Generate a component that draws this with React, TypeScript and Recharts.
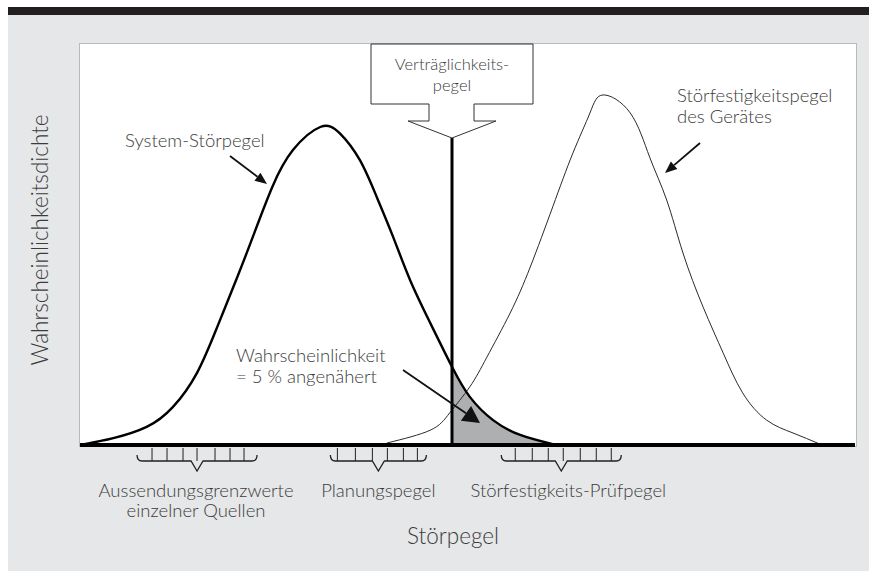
import React from 'react';
import { ComposedChart, Line, Area, XAxis, YAxis, ReferenceLine } from 'recharts';

// System-Störpegel (thick curve): level / density pairs
const systemLevel = [0.6, 4.3, 8.6, 12.0, 15.1, 17.7, 20.3, 22.3, 24.8, 27.5, 31.0, 33.5, 36.1, 38.3, 40.4, 42.6, 45.2, 48.0, 50.3, 53.3, 56.8, 61.0];
const systemDensity = [0.2, 1.7, 4.5, 9.5, 18.0, 29.4, 41.9, 51.9, 64.3, 73.6, 79.3, 77.8, 71.1, 61.8, 51.9, 41.1, 30.4, 19.5, 12.0, 6.2, 2.5, 0.2];

// Störfestigkeitspegel des Gerätes (thin curve)
const immunityLevel = [39.6, 45.2, 47.7, 50.3, 52.5, 55.5, 58.1, 61.0, 63.6, 65.8, 67.5, 71.0, 73.5, 75.7, 77.8, 80.4, 83.0, 85.5, 88.6, 92.0, 95.5];
const immunityDensity = [0.5, 3.7, 8.0, 14.5, 21.9, 32.9, 44.4, 59.4, 72.8, 82.8, 87.3, 82.8, 71.8, 61.1, 47.9, 34.4, 22.9, 13.0, 6.2, 3.0, 0.2];

// Verträglichkeitspegel
const compatibilityLevel = 48.0;
const compatibilityTop = 76.6;

// bracket groups under the axis
const tickLevels = [15.1, 38.5, 62.1];
const tickLabels = [
  ['Aussendungsgrenzwerte', 'einzelner Quellen'],
  ['Planungspegel'],
  ['Störfestigkeits-Prüfpegel'],
];

const systemData = systemLevel.map((u, i) => ({ u, v: systemDensity[i] }));
const immunityData = immunityLevel.map((u, i) => ({ u, v: immunityDensity[i] }));
const tailData = systemData.filter((d) => d.u >= compatibilityLevel);

const FONT = 'Lato, "Open Sans", sans-serif';
const TEXT = '#3b3b3b';

// bracket shapes: half width, tick offsets from the centre, label shift
const bracketStyle = [
  { hw: 60, ticks: [-45, -30, -14, 0, 18, 33, 47], dx: -1 },
  { hw: 48, ticks: [-41, -23, -6, 9, 25, 39], dx: 0 },
  { hw: 60, ticks: [-46, -29, -13, 2, 19, 35, 50], dx: 7 },
];

const BracketTick = (props: any) => {
  const { x, y, index } = props;
  const s = bracketStyle[index] || bracketStyle[0];
  const top = y + 3;
  const bar = y + 16;
  const d = `M${x - s.hw},${bar - 6} Q${x - s.hw},${bar} ${x - s.hw + 5},${bar} L${x - 6},${bar} L${x},${bar + 10} L${x + 6},${bar} L${x + s.hw - 5},${bar} Q${x + s.hw},${bar} ${x + s.hw},${bar - 6}`;
  const lines = tickLabels[index] || [];
  return (
    <g>
      <path d={d} fill="none" stroke="#222" strokeWidth={1.3} />
      {s.ticks.map((t, i) => (
        <line key={i} x1={x + t} x2={x + t} y1={top} y2={bar} stroke="#222" strokeWidth={1} />
      ))}
      {lines.map((l, i) => (
        <text
          key={i}
          x={x + s.dx}
          y={y + 52 + i * 20}
          textAnchor="middle"
          fontFamily={FONT}
          fontWeight={300}
          fontSize={18.5}
          fill={TEXT}
        >
          {l}
        </text>
      ))}
    </g>
  );
};

const Arrow = ({ x1, y1, x2, y2, head = 12, wide = 5, w = 1.8 }: any) => {
  const a = Math.atan2(y2 - y1, x2 - x1);
  const bx = x2 - head * Math.cos(a);
  const by = y2 - head * Math.sin(a);
  const px = -Math.sin(a) * wide;
  const py = Math.cos(a) * wide;
  return (
    <g>
      <line x1={x1} y1={y1} x2={bx} y2={by} stroke="#111" strokeWidth={w} />
      <polygon points={`${x2},${y2} ${bx + px},${by + py} ${bx - px},${by - py}`} fill="#111" />
    </g>
  );
};

const Label = ({ x, y, lines, anchor = 'start', size = 18.5 }: any) => (
  <text x={x} y={y} textAnchor={anchor} fontFamily={FONT} fontWeight={300} fontSize={size} fill={TEXT}>
    {lines.map((l: string, i: number) => (
      <tspan key={i} x={x} dy={i === 0 ? 0 : 21}>
        {l}
      </tspan>
    ))}
  </text>
);

export default function App() {
  return (
    <div style={{ position: 'absolute', left: 0, top: 0, width: 869, height: 571, background: '#fff', overflow: 'hidden' }}>
      <div style={{ position: 'absolute', left: 8, top: 7, right: 0, bottom: 0, background: '#e6e7e8' }} />
      <div style={{ position: 'absolute', left: 8, top: 7, right: 0, height: 8, background: '#231f20' }} />
      <div
        style={{
          position: 'absolute',
          left: 79,
          top: 43,
          width: 776,
          height: 402,
          background: '#fff',
          border: '1px solid #b9b9b9',
        }}
      />
      <div style={{ position: 'absolute', left: 0, top: 0 }}>
        <ComposedChart width={869} height={571} margin={{ top: 44, right: 14, bottom: 26, left: 80 }}>
          <XAxis
            dataKey="u"
            type="number"
            domain={[0, 100]}
            ticks={tickLevels}
            interval={0}
            height={100}
            axisLine={{ stroke: '#000', strokeWidth: 4 }}
            tickLine={false}
            tickSize={0}
            tickMargin={0}
            tick={<BracketTick />}
          />
          <YAxis type="number" domain={[0, 100]} hide width={0} />
          <Area
            data={tailData}
            dataKey="v"
            type="natural"
            stroke="none"
            fill="#adafb0"
            fillOpacity={1}
            isAnimationActive={false}
          />
          <Line
            data={immunityData}
            dataKey="v"
            type="natural"
            stroke="#2a2a2a"
            strokeWidth={1}
            dot={false}
            isAnimationActive={false}
          />
          <Line
            data={systemData}
            dataKey="v"
            type="natural"
            stroke="#000"
            strokeWidth={2.4}
            dot={false}
            isAnimationActive={false}
          />
          <ReferenceLine
            segment={[
              { x: compatibilityLevel, y: 0 },
              { x: compatibilityLevel, y: compatibilityTop },
            ]}
            stroke="#000"
            strokeWidth={3}
          />
        </ComposedChart>
      </div>
      <svg width={869} height={571} style={{ position: 'absolute', left: 0, top: 0, pointerEvents: 'none' }}>
        <polygon
          points="371,44 533,44 533,104 474,104 474,121 496,121 452,138 408,121 429,121 429,104 371,104"
          fill="#fff"
          stroke="#333"
          strokeWidth={1}
        />
        <Label x={452} y={70} lines={['Verträglichkeits-', 'pegel']} anchor="middle" size={16.5} />
        <Label x={125} y={147} lines={['System-Störpegel']} />
        <Arrow x1={230} y1={156} x2={267} y2={184} />
        <Label x={677} y={102} lines={['Störfestigkeitspegel', 'des Gerätes']} />
        <Arrow x1={700} y1={143} x2={665} y2={173} />
        <Label x={236} y={362} lines={['Wahrscheinlichkeit', '= 5 % angenähert']} />
        <Arrow x1={403} y1={370} x2={480} y2={423} head={17} wide={9} w={1.8} />
        <text x={453} y={544} textAnchor="middle" fontFamily={FONT} fontWeight={300} fontSize={22.5} fill={TEXT}>
          Störpegel
        </text>
        <text
          x={0}
          y={0}
          transform="translate(48,240) rotate(-90)"
          textAnchor="middle"
          fontFamily={FONT}
          fontWeight={300}
          fontSize={22.5}
          fill={TEXT}
        >
          Wahrscheinlichkeitsdichte
        </text>
      </svg>
    </div>
  );
}
